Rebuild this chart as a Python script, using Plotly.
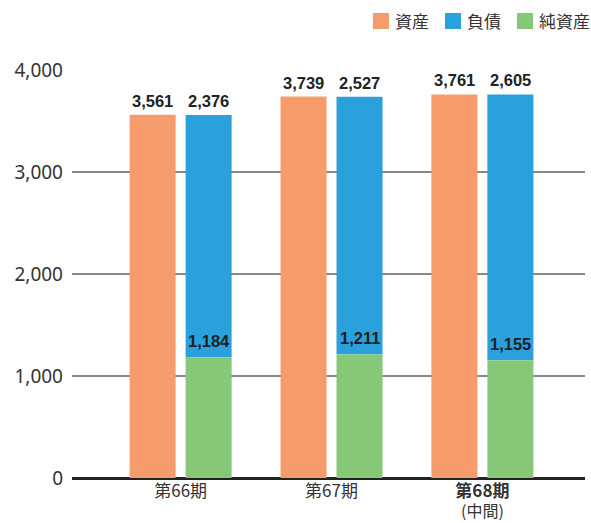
import plotly.graph_objects as go

categories = ["第66期", "第67期", "第68期"]
tick_text = ["第66期", "第67期", "<b>第68期</b>"]
sub_label = "(中間)"
assets = [3561, 3739, 3761]
liabilities = [2376, 2527, 2605]
net_assets = [1184, 1211, 1155]
series_names = ["資産", "負債", "純資産"]

c_orange = "#F69C6C"
c_blue = "#2AA1DC"
c_green = "#86C878"
colors = [c_orange, c_blue, c_green]

W, H = 591, 523
ML, MR, MT, MB = 72, 6, 70, 45
PW, PH = W - ML - MR, H - MT - MB

def px_x(px):
    return (px - ML) / PW

def px_y(py):
    return (H - MB - py) / PH

bw = 0.305
fig = go.Figure()
fig.add_trace(go.Bar(name=series_names[0], x=categories, y=assets, marker_color=c_orange,
                     width=bw, offset=-0.338, marker_line_width=0))
fig.add_trace(go.Bar(name=series_names[1], x=categories, y=liabilities, base=net_assets,
                     marker_color=c_blue, width=bw, offset=0.033, marker_line_width=0))
fig.add_trace(go.Bar(name=series_names[2], x=categories, y=net_assets, marker_color=c_green,
                     width=bw, offset=0.033, marker_line_width=0))

lab_font = dict(family="Liberation Sans", size=16.5, color="#222")
ann = []
for i, c in enumerate(categories):
    ann.append(dict(x=c, y=assets[i], text=f"<b>{assets[i]:,}</b>", showarrow=False,
                    xshift=-28, yanchor="bottom", yshift=3, font=lab_font))
    ann.append(dict(x=c, y=net_assets[i] + liabilities[i], text=f"<b>{liabilities[i]:,}</b>",
                    showarrow=False, xshift=28, yanchor="bottom", yshift=3, font=lab_font))
    ann.append(dict(x=c, y=net_assets[i], text=f"<b>{net_assets[i]:,}</b>", showarrow=False,
                    xshift=28, yanchor="bottom", yshift=5, font=lab_font))

# sub label under last category
ann.append(dict(x=categories[-1], xref="x", yref="paper", y=px_y(523), yanchor="bottom",
                text=sub_label, showarrow=False, borderpad=0,
                font=dict(family="Noto Sans CJK JP", size=16, color="#333")))

# manual legend
shapes = []
leg_sq_x = [373, 445, 517]
for name, col, sx in zip(series_names, colors, leg_sq_x):
    shapes.append(dict(type="rect", xref="paper", yref="paper",
                       x0=px_x(sx), x1=px_x(sx + 16), y0=px_y(29), y1=px_y(13),
                       fillcolor=col, line_width=0))
    ann.append(dict(xref="paper", yref="paper", x=px_x(sx + 20), y=px_y(21),
                    xanchor="left", yanchor="middle", text=name, showarrow=False,
                    font=dict(family="Noto Sans CJK JP", size=17, color="#333")))

fig.update_layout(
    barmode="overlay",
    width=W, height=H,
    margin=dict(l=ML, r=MR, t=MT, b=MB),
    plot_bgcolor="white", paper_bgcolor="white",
    font=dict(family="Noto Sans, Noto Sans CJK JP", size=17, color="#333"),
    showlegend=False,
    annotations=ann,
    shapes=shapes,
)
fig.update_xaxes(range=[-0.72, 2.68], tickvals=categories, ticktext=tick_text,
                 showline=False, ticks="", automargin=False, ticklabelstandoff=1,
                 tickfont=dict(family="Noto Sans CJK JP", size=17, color="#333"))
fig.update_yaxes(range=[0, 4000], tickvals=[0, 1000, 2000, 3000, 4000], tickformat=",d",
                 showgrid=True, gridcolor="#888", gridwidth=1.5, zeroline=True,
                 zerolinecolor="#222", zerolinewidth=2.5, ticks="", ticklabelstandoff=8,
                 automargin=False, tickfont=dict(size=19, color="#333"))
fig.write_html("out.html")
